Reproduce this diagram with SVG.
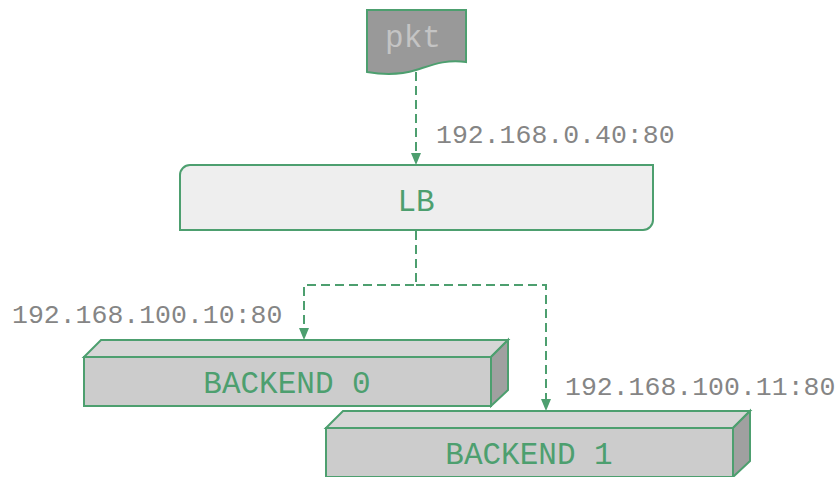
<svg xmlns="http://www.w3.org/2000/svg" width="840" height="477" viewBox="0 0 840 477">
<style>
.edge{fill:none;stroke:#4d9f6f;stroke-width:2;stroke-dasharray:9 5}
.nd{stroke:#4d9f6f;stroke-width:2;stroke-linejoin:miter}
.lbl{font-family:"Liberation Mono","Courier New",monospace;font-size:26.5px;fill:#858585}
.nt{font-family:"Liberation Mono","Courier New",monospace;font-size:31px;fill:#4d9f6f;text-anchor:middle}
</style>
<defs>
<marker id="ah" viewBox="0 0 10 12" refX="5" refY="12" markerWidth="10" markerHeight="12" markerUnits="userSpaceOnUse" orient="auto-start-reverse">
<path d="M0,0 L10,0 L5,12 Z" fill="#4d9f6f"/>
</marker>
</defs>
<rect width="840" height="477" fill="#ffffff"/>
<g id="connectors">
<path class="edge" d="M416,72 V153"/>
<path d="M411,153 L421,153 L416,165 Z" fill="#4d9f6f"/>
<path class="edge" d="M416,231 V285 H304 V328"/>
<path d="M299,328 L309,328 L304,340 Z" fill="#4d9f6f"/>
<path class="edge" d="M416,285 H546 V399"/>
<path d="M541,399 L551,399 L546,411 Z" fill="#4d9f6f"/>
<text class="lbl" x="436" y="143">192.168.0.40:80</text>
<text class="lbl" x="12" y="323">192.168.100.10:80</text>
<text class="lbl" x="565" y="395">192.168.100.11:80</text>
</g>
<g id="pkt">
<path class="nd" fill="#999999" d="M367,10 H466 V62 C446,59 432,65 416,70 C400,75 385,75 367,72 Z"/>
<text x="413" y="47" font-family="'Liberation Mono','Courier New',monospace" font-size="31" fill="#c4c4c4" text-anchor="middle">pkt</text>
</g>
<g id="lb">
<path class="nd" fill="#eeeeee" d="M190,165 H653 V220 A10,10 0 0 1 643,230 H180 V175 A10,10 0 0 1 190,165 Z"/>
<text class="nt" x="416" y="211">LB</text>
</g>
<g id="backend0">
<path class="nd" fill="#cccccc" d="M84,357 H491 V406 H84 Z"/>
<path class="nd" fill="#d6d6d6" d="M84,357 L101,340 H508 L491,357 Z"/>
<path class="nd" fill="#a0a0a0" d="M491,357 L508,340 V390 L491,406 Z"/>
<text class="nt" x="287" y="393">BACKEND 0</text>
</g>
<g id="backend1">
<path class="nd" fill="#cccccc" d="M326,428 H733 V477 H326 Z"/>
<path class="nd" fill="#d6d6d6" d="M326,428 L343,411 H750 L733,428 Z"/>
<path class="nd" fill="#a0a0a0" d="M733,428 L750,411 V461 L733,477 Z"/>
<text class="nt" x="529" y="464">BACKEND 1</text>
</g>
</svg>
